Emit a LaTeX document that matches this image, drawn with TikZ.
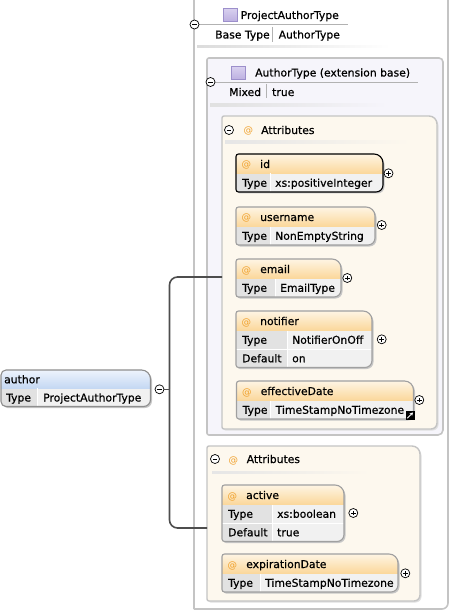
\documentclass[tikz,border=0pt]{standalone}
\usepackage{fontspec}
\setmainfont{DejaVu Sans}[BoldFont={DejaVu Sans}, BoldFeatures={FakeBold=0.6}]
\usetikzlibrary{arrows.meta}
\definecolor{hdtop}{HTML}{FEF5E4}
\definecolor{hdbot}{HTML}{FBD79A}
\definecolor{labfill}{HTML}{E2E2E2}
\definecolor{valfill}{HTML}{F1F1F1}
\definecolor{attrline}{HTML}{A0A0A0}
\definecolor{authline}{HTML}{8E8E8E}
\definecolor{cream}{HTML}{FDF8EE}
\definecolor{lavbg}{HTML}{F6F5FB}
\definecolor{contline}{HTML}{C4C4C4}
\definecolor{atcol}{HTML}{F0A02A}
\definecolor{bluetop}{HTML}{EDF3FC}
\definecolor{bluebot}{HTML}{C5D8F3}
\definecolor{purtop}{HTML}{D8D0EF}
\definecolor{purbot}{HTML}{BCAFE0}
\definecolor{purline}{HTML}{9C8FCB}
\definecolor{connline}{HTML}{4D4D4D}
\tikzset{
  txt/.style={inner sep=0pt, anchor=west, font=\fontsize{10.8}{13}\selectfont\bfseries, text height=8pt, text depth=0pt, text=black},
  atsign/.style={txt, font=\fontsize{9.5}{12}\selectfont, text=atcol},
  btn/.style={circle, draw=black, line width=0.7pt, fill=white, minimum size=9pt, inner sep=0pt},
  plusbtn/.style={btn, path picture={\draw[line width=0.7pt] ([xshift=-2.4pt]path picture bounding box.center) -- ([xshift=2.4pt]path picture bounding box.center) ([yshift=-2.4pt]path picture bounding box.center) -- ([yshift=2.4pt]path picture bounding box.center);}},
  minusbtn/.style={btn, path picture={\draw[line width=0.7pt] ([xshift=-2.4pt]path picture bounding box.center) -- ([xshift=2.4pt]path picture bounding box.center);}},
  area/.style={inner sep=0pt, outer sep=0pt, draw=none, anchor=north west},
  conn/.style={draw=connline, line width=1.6pt},
  thinline/.style={draw=black!30, line width=0.8pt},
  typeicon/.style={rectangle, minimum width=14pt, minimum height=13pt, inner sep=0pt, draw=purline, line width=0.6pt, top color=purtop, bottom color=purbot},
  linkicon/.style={rectangle, fill=black, minimum size=9pt, inner sep=0pt, path picture={\draw[white, line width=1pt, -{Stealth[length=3.2pt,width=3.6pt]}] ([xshift=1.8pt,yshift=1.8pt]path picture bounding box.south west) -- ([xshift=-1.5pt,yshift=-1.5pt]path picture bounding box.north east);}},
}
% rounded box path: #1 options, #2 x1, #3 ytop, #4 x2, #5 ybot (pixel, y down), #6..#9 radii tl tr br bl
\newcommand\rbox[9]{%
  \path[#1] ({#2+#6},{-(#3)}) -- ({#4-#7},{-(#3)}) arc[start angle=90,end angle=0,radius=#7pt]
    -- ({#4},{-(#5)+#8}) arc[start angle=0,end angle=-90,radius=#8pt]
    -- ({#2+#9},{-(#5)}) arc[start angle=270,end angle=180,radius=#9pt]
    -- ({#2},{-(#3)-#6}) arc[start angle=180,end angle=90,radius=#6pt] -- cycle;}
% attribute box: [#1 border], #2 name, #3 x, #4 ytop, #5 width, #6 sep offset, #7 rows, #8 title, #9 rows list
\newcommand\attrbox[9][attrline]{%
  \pgfmathsetmacro\bh{19.5+18.5*#7}%
  \pgfmathsetmacro\xr{#3+#5}%
  \pgfmathsetmacro\yb{#4+\bh}%
  \pgfmathsetmacro\yh{#4+19.5}%
  \pgfmathsetmacro\xs{#3+#6}%
  \rbox{fill=black!22}{#3+1.5}{#4+1.5}{\xr+1.5}{\yb+1.5}{2.5}{9}{7}{2.5}%
  \begin{scope}
    \rbox{clip}{#3}{#4}{\xr}{\yb}{2.5}{9}{7}{2.5}
    \fill[valfill] (#3,-#4) rectangle (\xr,-\yb);
    \fill[labfill] (#3,-\yh) rectangle (\xs,-\yb);
    \shade[top color=hdtop,bottom color=hdbot] (#3,-#4) rectangle (\xr,-\yh);
    \draw[white,line width=1pt] (\xs,-\yh) -- (\xs,-\yb);
    \foreach \lab/\val [count=\i] in {#9}{
      \pgfmathsetmacro\ry{\yh+18.5*(\i-1)}
      \ifnum\i>1 \draw[white,line width=1pt] (#3,-\ry) -- (\xr,-\ry);\fi
      \node[txt] (#2-l\i) at ({#3+6},{-(\ry+9.25)}) {\lab};
      \node[txt] (#2-v\i) at ({\xs+5},{-(\ry+9.25)}) {\val};
    }
  \end{scope}
  \rbox{draw=#1,line width=1.1pt}{#3}{#4}{\xr}{\yb}{2.5}{9}{7}{2.5}
  \node[area, minimum width=#5pt, minimum height=\bh pt] (#2) at (#3,-#4) {};
  \node[atsign] (#2-at) at ({#3+5.5},{-(#4+10)}) {@};
  \node[txt] (#2-name) at ({#3+24},{-(#4+10)}) {#8};
}
\begin{document}
\begin{tikzpicture}[x=1pt,y=1pt]
\useasboundingbox (0,0) rectangle (453,-612);
% outer container: ProjectAuthorType
\rbox{fill=white,draw=contline,line width=1.6pt}{194}{-20}{448}{609}{0.5}{0.5}{6}{0.5}
\node[area, minimum width=254pt, minimum height=609pt] (pat) at (194,0) {};
\draw[thinline] (199,-24.5) -- (348,-24.5);
\node[minusbtn] (pat-btn) at (194.5,-24.5) {};
\node[typeicon] (pat-icon) at (230,-15) {};
\node[txt] (pat-title) at (240.5,-15) {ProjectAuthorType};
\node[txt] (pat-l1) at (215,-34.5) {Base Type};
\draw[thinline] (272.7,-27) -- (272.7,-42);
\node[txt] (pat-v1) at (278.5,-34.5) {AuthorType};
\shade[left color=black!14, right color=white] (197,-45.5) rectangle (390,-48);
% inner container: AuthorType (extension base)
\rbox{fill=lavbg,draw=contline,line width=1.6pt}{207}{58}{443}{435}{2}{4}{5}{2}
\node[area, minimum width=236pt, minimum height=377pt] (atype) at (207,-58) {};
\draw[thinline] (215,-82.5) -- (418,-82.5);
\node[minusbtn] (atype-btn) at (210.5,-82) {};
\node[typeicon] (atype-icon) at (238,-73.3) {};
\node[txt] (atype-title) at (255,-72.5) {AuthorType (extension base)};
\node[txt] (atype-l1) at (229,-92) {Mixed};
\draw[thinline] (266.7,-84) -- (266.7,-98);
\node[txt] (atype-v1) at (272,-92) {true};
\shade[left color=black!12, right color=lavbg] (210,-104) rectangle (388,-106.5);
% attributes group 1
\rbox{fill=black!12}{223.5}{117.5}{438.5}{430.5}{2}{8}{6}{2}
\rbox{fill=cream,draw=contline,line width=1.4pt}{222}{116}{437}{429}{2}{8}{6}{2}
\node[area, minimum width=215pt, minimum height=313pt] (attrs1) at (222,-116) {};
\node[minusbtn] (attrs1-btn) at (229,-130) {};
\node[atsign] (attrs1-at) at (243.5,-130) {@};
\node[txt] (attrs1-title) at (261,-130) {Attributes};
\shade[left color=black!10, right color=cream] (225,-141) rectangle (410,-143.5);
\attrbox[black]{id}{236}{154}{147}{34}{1}{id}{Type/xs:positiveInteger}
\attrbox{username}{236}{207}{139}{34}{1}{username}{Type/NonEmptyString}
\attrbox{email}{236}{259}{105}{39}{1}{email}{Type/EmailType}
\attrbox{notifier}{236}{311}{136}{51}{2}{notifier}{Type/NotifierOnOff,Default/on}
\attrbox{effdate}{236.5}{381}{177}{34}{1}{effectiveDate}{Type/TimeStampNoTimezone}
\node[plusbtn] (id-exp) at (388.5,-173.3) {};
\node[plusbtn] (username-exp) at (381.7,-225) {};
\node[plusbtn] (email-exp) at (347.3,-278) {};
\node[plusbtn] (notifier-exp) at (381.7,-339.3) {};
\node[plusbtn] (effdate-exp) at (419.3,-400) {};
\node[linkicon] (effdate-link) at (410,-415.5) {};
% attributes group 2
\rbox{fill=black!12}{208.5}{447.5}{421.5}{602.5}{2}{8}{6}{2}
\rbox{fill=cream,draw=contline,line width=1.4pt}{207}{446}{420}{601}{2}{8}{6}{2}
\node[area, minimum width=213pt, minimum height=155pt] (attrs2) at (207,-446) {};
\node[minusbtn] (attrs2-btn) at (215,-459) {};
\node[atsign] (attrs2-at) at (228.5,-459) {@};
\node[txt] (attrs2-title) at (246.5,-459) {Attributes};
\shade[left color=black!10, right color=cream] (212,-471) rectangle (370,-473.5);
\attrbox{active}{222}{485}{122}{50}{2}{active}{Type/xs:boolean,Default/true}
\attrbox{expdate}{222}{554}{176}{38}{1}{expirationDate}{Type/TimeStampNoTimezone}
\node[plusbtn] (active-exp) at (353.3,-513) {};
\node[plusbtn] (expdate-exp) at (405.3,-573.3) {};
% author element
\rbox{fill=black!22}{2.5}{371.5}{152}{408}{5}{9}{7}{5}
\begin{scope}
  \rbox{clip}{1}{370}{150.5}{406.5}{5}{9}{7}{5}
  \fill[valfill] (1,-370) rectangle (150.5,-406.5);
  \fill[labfill] (1,-388) rectangle (37.5,-406.5);
  \shade[top color=bluetop,bottom color=bluebot] (1,-370) rectangle (150.5,-388);
  \draw[white,line width=1pt] (37.5,-388) -- (37.5,-406.5);
\end{scope}
\rbox{draw=authline,line width=1.1pt}{1}{370}{150.5}{406.5}{5}{9}{7}{5}
\node[area, minimum width=149.5pt, minimum height=36.5pt] (author) at (1,-370) {};
\node[txt] (author-name) at (4,-379.3) {author};
\node[txt] (author-l1) at (6,-397.5) {Type};
\node[txt] (author-v1) at (43,-397.5) {ProjectAuthorType};
\node[minusbtn] (author-btn) at (159.5,-389.3) {};
% connectors
\coordinate (jn) at (169.5,-389.3);
\coordinate (a1in) at (222,-277);
\coordinate (a2in) at (207,-528);
\draw[conn] (author-btn.east) -- (jn);
\draw[conn,rounded corners=8pt] (jn) |- (a1in);
\draw[conn,rounded corners=8pt] (jn) |- (a2in);
\end{tikzpicture}
\end{document}
